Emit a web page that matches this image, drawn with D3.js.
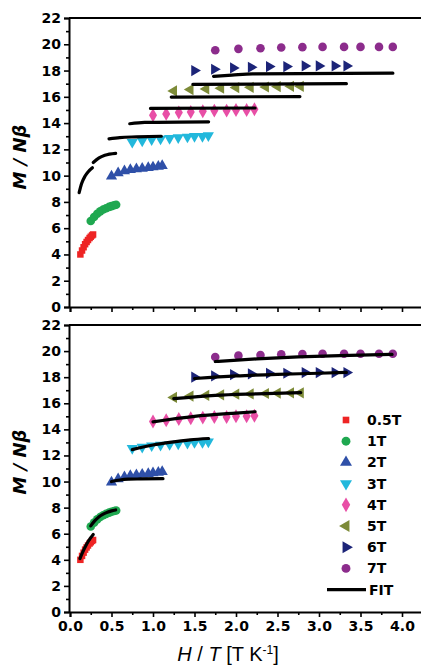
<!DOCTYPE html>
<html><head><meta charset="utf-8">
<script src="https://cdn.jsdelivr.net/npm/d3@7"></script>
<style>body{margin:0;background:#fff}svg{display:block}text{font-family:"DejaVu Sans",sans-serif}</style>
</head><body><svg id="c" width="421" height="666"></svg>
<script>
// ---- data ----
const fields = ["0.5T","1T","2T","3T","4T","5T","6T","7T"];
const colors = ["#ee2424","#1fa850","#2f50a8","#22b8dc","#e84fa6","#7d8b38","#1c2478","#8c2c8c"];
const shapes = ["square","circle","up","down","diamond","left","right","circle"];

// measured H/T values (T K^-1) for each field
const hT_05 = [0.125,0.145,0.164,0.182,0.200,0.217,0.236,0.250,0.266,0.278];
const hT_1  = [0.25,0.29,0.328,0.364,0.40,0.435,0.472,0.50,0.532,0.556];
const hT_2  = [0.50,0.58,0.656,0.727,0.80,0.87,0.943,1.00,1.064,1.111];
const hT_3  = [0.75,0.87,0.984,1.091,1.20,1.304,1.415,1.50,1.596,1.667];
const hT_4  = [1.00,1.159,1.311,1.455,1.60,1.739,1.887,2.00,2.128,2.222];
const hT_5  = [1.25,1.449,1.639,1.818,2.00,2.174,2.358,2.50,2.660,2.778];
const hT_6  = [1.50,1.739,1.967,2.182,2.40,2.609,2.830,3.00,3.191,3.333];
const hT_7  = [1.75,2.029,2.295,2.545,2.80,3.043,3.302,3.50,3.723,3.889];
// measured M/Nβ
const m_05 = [4.0,4.3,4.55,4.78,4.95,5.1,5.25,5.35,5.45,5.52];
const m_1  = [6.55,6.85,7.1,7.28,7.42,7.52,7.62,7.68,7.74,7.78];
const m_2  = [9.95,10.2,10.35,10.45,10.5,10.55,10.6,10.65,10.7,10.75];
const m_3  = [12.55,12.65,12.75,12.8,12.85,12.9,12.95,13.0,13.0,13.05];
const m_4  = [14.6,14.7,14.8,14.85,14.9,14.95,14.95,15.0,15.0,15.05];
const m_5  = [16.45,16.55,16.6,16.65,16.7,16.72,16.75,16.78,16.8,16.8];
const m_6  = [18.0,18.1,18.2,18.25,18.3,18.3,18.35,18.35,18.35,18.35];
const m_7  = [19.55,19.65,19.7,19.75,19.78,19.8,19.8,19.8,19.8,19.8];

// top-panel fit curves
const fitTopX = [[0.11,0.14,0.18,0.22,0.27],[0.28,0.35,0.42,0.55],[0.47,0.6,0.8,1.1],[0.72,0.9,1.67],[0.97,2.23],[1.22,2.77],[1.48,3.33],[1.73,1.95,2.2,3.89]];
const fitTopY = [[8.7,9.4,9.95,10.3,10.6],[11.0,11.35,11.55,11.7],[12.8,12.9,12.95,13.0],[13.95,14.05,14.1],[15.12,15.15],[15.98,16.02],[16.95,17.0],[17.55,17.65,17.75,17.8]];
// bottom-panel fit curves
const fitBotX = [[0.12,0.15,0.2,0.25,0.28],[0.25,0.3,0.35,0.4,0.45,0.5,0.55],[0.5,0.6,0.7,0.85,1.12],[0.75,1.0,1.2,1.45,1.67],[1.0,1.5,2.0,2.23],[1.25,1.75,2.25,2.78],[1.5,2.0,2.5,3.0,3.33],[1.75,2.25,2.75,3.25,3.88]];
const fitBotY = [[4.1,4.55,5.2,5.7,5.95],[6.6,7.0,7.3,7.5,7.65,7.75,7.82],[10.0,10.12,10.18,10.2,10.22],[12.45,12.8,13.0,13.2,13.3],[14.58,15.0,15.25,15.35],[16.35,16.6,16.72,16.82],[17.9,18.1,18.22,18.3,18.37],[19.2,19.4,19.55,19.65,19.75]];

const xTickVals = [0,0.5,1,1.5,2,2.5,3,3.5,4];
const yTickVals = [0,2,4,6,8,10,12,14,16,18,20,22];

const hTs = [hT_05,hT_1,hT_2,hT_3,hT_4,hT_5,hT_6,hT_7];
const ms  = [m_05,m_1,m_2,m_3,m_4,m_5,m_6,m_7];

// ---- drawing ----
const svg = d3.select("#c");
const x = d3.scaleLinear().domain([0,4.25]).range([70,422.75]);
const panels = [
  {y: d3.scaleLinear().domain([0,22]).range([307,18]), fx: fitTopX, fy: fitTopY, labels:false, ylab:157},
  {y: d3.scaleLinear().domain([0,22]).range([612,325]), fx: fitBotX, fy: fitBotY, labels:true, ylab:462}
];

function symPath(shape, size){
  const t = {square:d3.symbolSquare, circle:d3.symbolCircle, diamond:d3.symbolDiamond}[shape] || d3.symbolTriangle;
  return d3.symbol().type(t).size(size)();
}
function symRot(shape){ return {down:180,left:-90,right:90}[shape] || 0; }
function symSize(shape){ return shape==="square"?42:(shape==="circle"?58:(shape==="diamond"?56:54)); }

panels.forEach(p => {
  const g = svg.append("g");
  const [y0,y1] = p.y.range();
  g.append("line").attr("x1",69).attr("x2",421).attr("y1",y1).attr("y2",y1).attr("stroke","#000").attr("stroke-width",2);

  g.append("g").attr("transform","translate(69,0)")
    .call(d3.axisLeft(p.y).tickValues(yTickVals).tickSize(5).tickPadding(3).tickFormat(d3.format("d")));
  g.append("g").attr("transform","translate(69,0)")
    .call(d3.axisLeft(p.y).tickValues(d3.range(1,22,2)).tickSize(3).tickFormat(""))
    .select(".domain").remove();
  g.append("g").attr("transform",`translate(0,${y0})`)
    .call(d3.axisBottom(x).tickValues(xTickVals).tickSize(5).tickPadding(4)
      .tickFormat(p.labels ? d3.format(".1f") : ""));
  g.append("g").attr("transform",`translate(0,${y0})`)
    .call(d3.axisBottom(x).tickValues([0.25,0.75,1.25,1.75,2.25,2.75,3.25,3.75,4.25]).tickSize(3).tickFormat(""))
    .select(".domain").remove();
  g.selectAll(".domain").attr("stroke-width",2);
  g.selectAll(".tick line").attr("stroke-width",1.6);
  g.selectAll(".tick text").attr("font-size",14).attr("font-weight","bold").attr("fill","#000")
    .style("font-family","'DejaVu Sans',sans-serif");

  fields.forEach((f,i) => {
    g.append("g").selectAll("path").data(hTs[i].map((v,j)=>[v,ms[i][j]])).join("path")
      .attr("d", symPath(shapes[i], symSize(shapes[i])))
      .attr("transform", d => `translate(${x(d[0])},${p.y(d[1])}) rotate(${symRot(shapes[i])})`)
      .attr("fill", colors[i]);
  });
  const line = d3.line().x(d=>x(d[0])).y(d=>p.y(d[1])).curve(d3.curveMonotoneX);
  p.fx.forEach((xs,i) => {
    g.append("path").attr("d", line(xs.map((v,j)=>[v,p.fy[i][j]])))
      .attr("fill","none").attr("stroke","#000").attr("stroke-width",3.2).attr("stroke-linecap","round");
  });

  g.append("text").attr("transform",`translate(26,${p.ylab}) rotate(-90)`)
    .attr("text-anchor","middle").attr("font-size",18).attr("font-weight","bold").attr("font-style","italic")
    .text("M / Nβ");
});

// legend
const lg = svg.append("g");
const ly0 = 420, ldy = 21.2;
fields.forEach((f,i) => {
  const yy = ly0 + i*ldy;
  lg.append("path").attr("d", symPath(shapes[i], shapes[i]==="square"?44:62))
    .attr("transform",`translate(346,${yy}) rotate(${symRot(shapes[i])})`).attr("fill",colors[i]);
  lg.append("text").attr("x",367).attr("y",yy).attr("dy","0.36em").attr("font-size",14)
    .attr("font-weight","bold").text(f);
});
const fy = ly0 + 8*ldy;
lg.append("line").attr("x1",327).attr("x2",366).attr("y1",fy).attr("y2",fy).attr("stroke","#000").attr("stroke-width",3.2);
lg.append("text").attr("x",369).attr("y",fy).attr("dy","0.36em").attr("font-size",14).attr("font-weight","bold").text("FIT");

// x label
const xl = svg.append("text").attr("x",228).attr("y",661).attr("text-anchor","middle").attr("font-size",20)
  .style("font-family","'Liberation Sans',Arial,sans-serif");
xl.append("tspan").attr("font-style","italic").text("H");
xl.append("tspan").text(" / ");
xl.append("tspan").attr("font-style","italic").text("T");
xl.append("tspan").text(" [T K");
xl.append("tspan").attr("font-size",12).attr("dy",-7).text("-1");
xl.append("tspan").attr("dy",7).text("]");
</script></body></html>
